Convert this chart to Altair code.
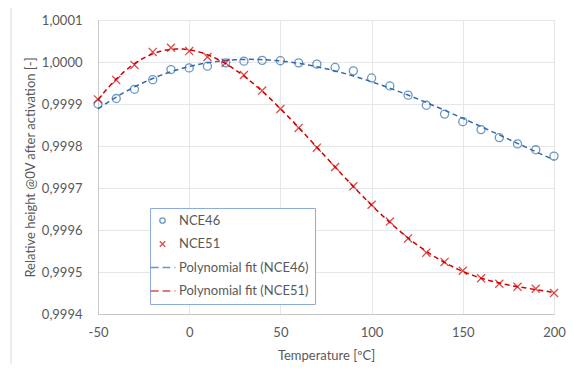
import altair as alt
import pandas as pd

# ---- data ----
temps = [-50, -40, -30, -20, -10, 0, 10, 20, 30, 40, 50, 60, 70, 80, 90, 100,
         110, 120, 130, 140, 150, 160, 170, 180, 190, 200]
nce46 = [0.99990, 0.999913, 0.999935, 0.999958, 0.999982, 0.999986, 0.999990,
         0.999998, 1.000002, 1.000004, 1.000003, 0.999998, 0.999995, 0.999987,
         0.999979, 0.999962, 0.999943, 0.999921, 0.999897, 0.999876, 0.999858,
         0.999839, 0.999820, 0.999805, 0.999791, 0.999776]
nce51 = [0.999911, 0.999957, 0.999993, 1.000024, 1.000034, 1.000026, 1.000012,
         0.999998, 0.999969, 0.999932, 0.999888, 0.999843, 0.999796, 0.999750,
         0.999704, 0.999660, 0.999620, 0.999580, 0.999546, 0.999524, 0.999503,
         0.999485, 0.999472, 0.999465, 0.999460, 0.999450]
legend_entries = ["NCE46", "NCE51", "Polynomial fit (NCE46)", "Polynomial fit (NCE51)"]
y_ticks = [0.9994, 0.9995, 0.9996, 0.9997, 0.9998, 0.9999, 1.0000, 1.0001]
x_ticks = [-50, 0, 50, 100, 150, 200]

BLUE = "#2E6BAE"
RED = "#D00000"
TEXT = "#595959"
FONT = "Lato"

rows = []
for t, v in zip(temps, nce46):
    rows.append({"temp": t, "value": v, "series": "NCE46"})
for t, v in zip(temps, nce51):
    rows.append({"temp": t, "value": v, "series": "NCE51"})
df = pd.DataFrame(rows)

circle_path = "M-0.9,0A0.9,0.9 0 1,0 0.9,0A0.9,0.9 0 1,0 -0.9,0"
x_path = "M-0.9,-0.9L0.9,0.9M-0.9,0.9L0.9,-0.9"
dash_path = "M-3.9,0L-1.3,0M0,0L2.6,0M4,0L4.3,0"

color_scale = alt.Scale(domain=legend_entries, range=[BLUE, RED, BLUE, RED])
shape_scale = alt.Scale(domain=legend_entries,
                        range=[circle_path, x_path, dash_path, dash_path])

legend = alt.Legend(
    title=None, orient="none", legendX=52, legendY=188,
    padding=6, symbolSize=36, symbolStrokeWidth=1.3,
    labelOffset=10, rowPadding=9.5,
    strokeColor="#8FAADC", fillColor="white",
    labelFont=FONT, labelFontSize=13, labelColor=TEXT,
)

x_enc = alt.X("temp:Q",
              scale=alt.Scale(domain=[-50, 200], nice=False, zero=False),
              axis=alt.Axis(values=x_ticks, title="Temperature [ºC]",
                            labelExpr="datum.value + ''", labelFlush=False,
                            titleY=41, titleBaseline="middle"))
y_enc = alt.Y("value:Q",
              scale=alt.Scale(domain=[0.9994, 1.0001], nice=False, zero=False),
              axis=alt.Axis(values=y_ticks,
                            title="Relative height @0V after activation [-]",
                            labelExpr="replace(format(datum.value, '.4f'), '.', ',')",
                            labelPadding=16, labelFlush=False,
                            titleX=-68, titleY=147,
                            titleBaseline="middle", titleAlign="center",
                            titleAngle=-90))

border = alt.Chart(pd.DataFrame({"a": [0]})).mark_rect(
    fill=None, stroke="#D9D9D9", strokeWidth=1
).encode(x=alt.value(-87), x2=alt.value(600), y=alt.value(-14), y2=alt.value(400))

points = alt.Chart(df).mark_point(filled=False, size=80, strokeWidth=1.3).encode(
    x=x_enc, y=y_enc,
    color=alt.Color("series:N", scale=color_scale, legend=legend),
    shape=alt.Shape("series:N", scale=shape_scale, legend=legend),
)


def fit_layer(name, order):
    return alt.Chart(df).transform_filter(
        alt.datum.series == name
    ).transform_regression(
        "temp", "value", method="poly", order=order, groupby=["series"]
    ).transform_calculate(
        series="'Polynomial fit (' + datum.series + ')'"
    ).mark_line(strokeDash=[5, 3.5], strokeWidth=1.5).encode(
        x=x_enc, y=y_enc,
        color=alt.Color("series:N", scale=color_scale, legend=legend),
    )


fit46 = fit_layer("NCE46", 3)
fit51 = fit_layer("NCE51", 5)

chart = alt.layer(border, fit46, fit51, points).properties(
    width=456, height=294,
    padding={"left": 90, "top": 12, "right": 12, "bottom": 50},
    autosize=alt.AutoSizeParams(type="none"),
).configure_axis(
    labelFont=FONT, labelFontSize=13, labelColor=TEXT,
    titleFont=FONT, titleFontSize=13, titleColor=TEXT, titleFontWeight="normal",
    ticks=False, tickSize=0, gridColor="#E6E6E6", domainColor="#C8C8C8",
    labelPadding=12,
).configure_view(stroke="#E6E6E6")

chart.save("out.html", embed_options={"renderer": "svg", "actions": False})
